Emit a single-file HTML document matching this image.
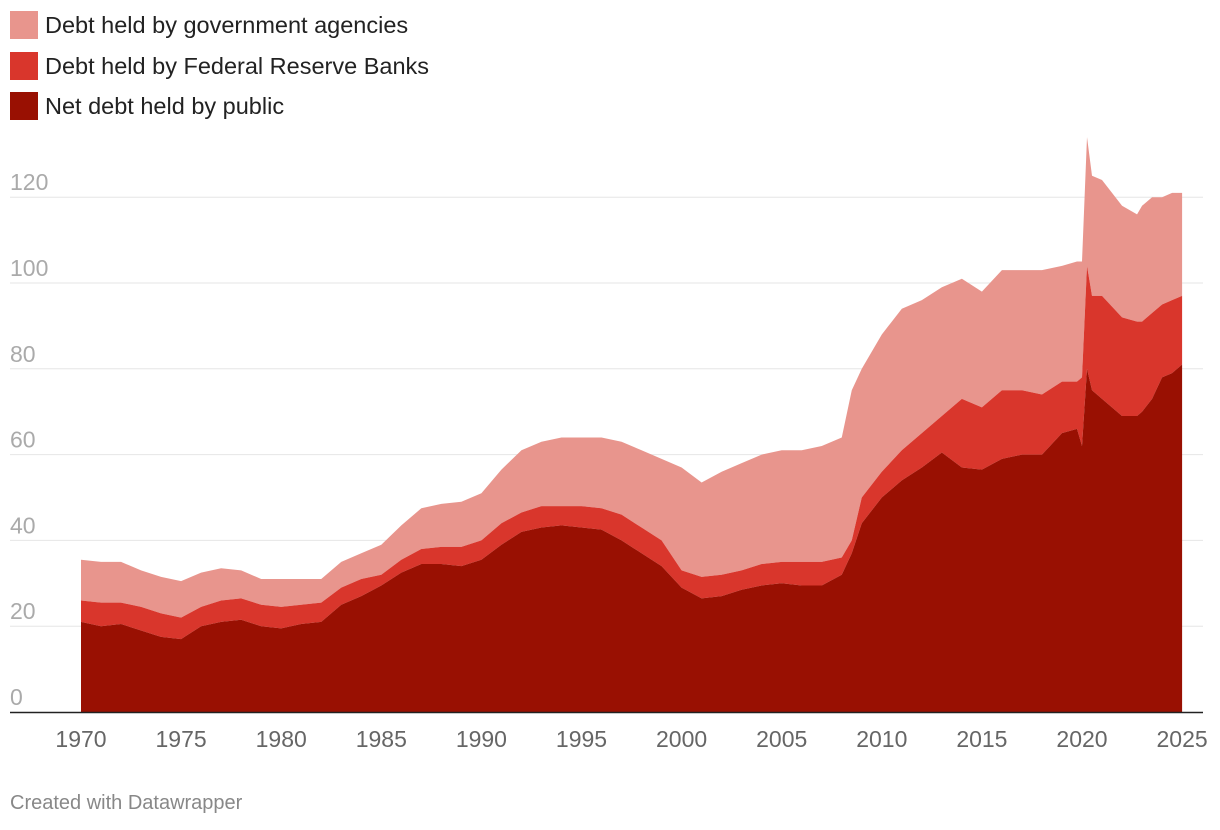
<!DOCTYPE html>
<html><head><meta charset="utf-8"><style>
body{margin:0;background:#fff;font-family:"Liberation Sans",sans-serif}
.leg{position:absolute;left:10px;display:flex;align-items:center;font-size:23.5px;color:#222}
.sw{width:28px;height:28px;margin-right:7px}
</style></head><body>
<div style="position:relative;width:1220px;height:830px;overflow:hidden">
<div class="leg" style="top:11px"><div class="sw" style="background:#e8958d"></div>Debt held by government agencies</div>
<div class="leg" style="top:52px"><div class="sw" style="background:#d9362c"></div>Debt held by Federal Reserve Banks</div>
<div class="leg" style="top:92px"><div class="sw" style="background:#991002"></div>Net debt held by public</div>
<svg id="chart" width="1220" height="830" style="position:absolute;left:0;top:0"></svg>
<div style="position:absolute;left:10px;top:792px;font-size:20px;color:#888">Created with Datawrapper</div>
</div>
<script>
const years=[1970,1971,1972,1973,1974,1975,1976,1977,1978,1979,1980,1981,1982,1983,1984,1985,1986,1987,1988,1989,1990,1991,1992,1993,1994,1995,1996,1997,1998,1999,2000,2001,2002,2003,2004,2005,2006,2007,2008,2008.5,2009,2010,2011,2012,2013,2014,2015,2016,2017,2018,2019,2019.75,2020,2020.25,2020.5,2021,2022,2022.75,2023,2023.5,2024,2024.5,2025];
const netPublic=[21,20,20.5,19,17.5,17,20,21,21.5,20,19.5,20.5,21,25,27,29.5,32.5,34.5,34.5,34,35.5,39,42,43,43.5,43,42.5,40,37,34,29,26.5,27,28.5,29.5,30,29.5,29.5,32,37,44,50,54,57,60.5,57,56.5,59,60,60,65,66,62,80,75,73,69,69,70,73,78,79,81];
const fedTotal=[26,25.5,25.5,24.5,23,22,24.5,26,26.5,25,24.5,25,25.5,29,31,32,35.5,38,38.5,38.5,40,44,46.5,48,48,48,47.5,46,43,40,33,31.5,32,33,34.5,35,35,35,36,40,50,56,61,65,69,73,71,75,75,74,77,77,78,104,97,97,92,91,91,93,95,96,97];
const total=[35.5,35,35,33,31.5,30.5,32.5,33.5,33,31,31,31,31,35,37,39,43.5,47.5,48.5,49,51,56.5,61,63,64,64,64,63,61,59,57,53.5,56,58,60,61,61,62,64,75,80,88,94,96,99,101,98,103,103,103,104,105,105,134,125,124,118,116,118,120,120,121,121];
const yTicks=[0,20,40,60,80,100,120];
const xTicks=[1970,1975,1980,1985,1990,1995,2000,2005,2010,2015,2020,2025];
const svg=document.getElementById('chart');const NS='http://www.w3.org/2000/svg';
const X=v=>81+(v-1970)*20.02;const Y=v=>712-v*4.29;
function mk(t,a){const e=document.createElementNS(NS,t);for(const k in a)e.setAttribute(k,a[k]);svg.appendChild(e);return e;}
yTicks.forEach(v=>{if(v>0){const g=mk('line',{x1:10,x2:1203,y1:Y(v),y2:Y(v),stroke:'#e6e6e6','stroke-width':1});

}
const t=mk('text',{x:10,y:Y(v)-7,fill:'#aaa','font-size':23,'font-family':'Liberation Sans, sans-serif'});t.textContent=v;

});
function area(top,bot,color,name){let d='M'+X(years[0])+','+Y(top[0]);
for(let i=1;i<years.length;i++)d+='L'+X(years[i])+','+Y(top[i]);
for(let i=years.length-1;i>=0;i--)d+='L'+X(years[i])+','+Y(bot?bot[i]:0);
const p=mk('path',{d:d+'Z',fill:color});

}
area(total,fedTotal,'#e8958d','area-agencies');
area(fedTotal,netPublic,'#d9362c','area-fed');
area(netPublic,null,'#991002','area-public');
const ax=mk('line',{x1:10,x2:1203,y1:712.5,y2:712.5,stroke:'#222','stroke-width':1.5});


xTicks.forEach(v=>{const t=mk('text',{x:X(v),y:747,fill:'#666','font-size':23,'text-anchor':'middle','font-family':'Liberation Sans, sans-serif'});t.textContent=v;

});
</script>
</body></html>
